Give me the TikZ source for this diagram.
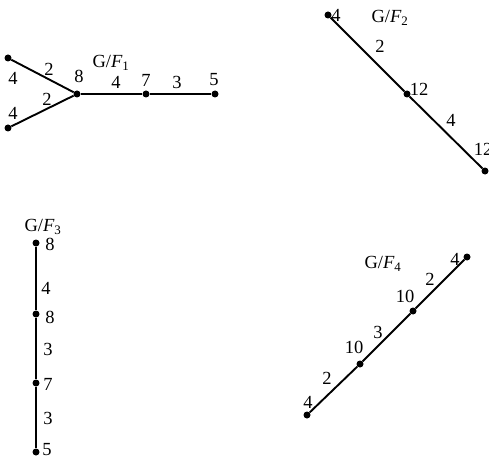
\documentclass[tikz,border=0pt]{standalone}
\usepackage{fontspec}
\setmainfont{Liberation Serif}
\newcommand{\gquot}[1]{G/\textit{F}\textsubscript{#1}}
\begin{document}
\begin{tikzpicture}[x=1pt,y=-1pt,
  vtx/.style={circle,fill=black,inner sep=0pt,minimum size=7pt},
  edge/.style={line width=1.9pt},
  lbl/.style={inner sep=0pt,font=\fontsize{18.5}{20}\selectfont}]
\useasboundingbox (0,0) rectangle (489,457);
% G/F1
\node[vtx] (a1) at (8,58) {};
\node[vtx] (a2) at (8,128) {};
\node[vtx] (a3) at (77,94) {};
\node[vtx] (a4) at (146,94) {};
\node[vtx] (a5) at (215,94) {};
\draw[edge] (a1) -- (a3);
\draw[edge] (a2) -- (a3);
\draw[edge] (a3) -- (a4) -- (a5);
\node[lbl] (t1) at (111,63) {\gquot{1}};
\node[lbl] (l1) at (13,78) {4};
\node[lbl] (l2) at (13,113) {4};
\node[lbl] (l3) at (49,69) {2};
\node[lbl] (l4) at (47,99) {2};
\node[lbl] (l5) at (79,76) {8};
\node[lbl] (l6) at (116,82) {4};
\node[lbl] (l7) at (146,80) {7};
\node[lbl] (l8) at (177,82) {3};
\node[lbl] (l9) at (214,80) {5};
% G/F2
\node[vtx] (b1) at (328,15) {};
\node[vtx] (b2) at (407,94) {};
\node[vtx] (b3) at (485,171) {};
\draw[edge] (b1) -- (b2) -- (b3);
\node[lbl] (t2) at (390,18) {\gquot{2}};
\node[lbl] (m1) at (336,15) {4};
\node[lbl] (m2) at (380,46) {2};
\node[lbl] (m3) at (419,89) {12};
\node[lbl] (m4) at (451,120) {4};
\node[lbl] (m5) at (483,149) {12};
% G/F3
\node[vtx] (c1) at (36,243) {};
\node[vtx] (c2) at (36,314) {};
\node[vtx] (c3) at (36,383) {};
\node[vtx] (c4) at (36,452) {};
\draw[edge] (c1) -- (c2) -- (c3) -- (c4);
\node[lbl] (t3) at (43,227) {\gquot{3}};
\node[lbl] (n1) at (50,244) {8};
\node[lbl] (n2) at (46,288) {4};
\node[lbl] (n3) at (50,317) {8};
\node[lbl] (n4) at (48,349) {3};
\node[lbl] (n5) at (48,384) {7};
\node[lbl] (n6) at (48,418) {3};
\node[lbl] (n7) at (47,450) {5};
% G/F4
\node[vtx] (d1) at (307,415) {};
\node[vtx] (d2) at (360,364) {};
\node[vtx] (d3) at (413,311) {};
\node[vtx] (d4) at (467,257) {};
\draw[edge] (d1) -- (d2) -- (d3) -- (d4);
\node[lbl] (t4) at (383,264) {\gquot{4}};
\node[lbl] (o1) at (308,402) {4};
\node[lbl] (o2) at (327,378) {2};
\node[lbl] (o3) at (354,347) {10};
\node[lbl] (o4) at (378,332) {3};
\node[lbl] (o5) at (405,296) {10};
\node[lbl] (o6) at (430,279) {2};
\node[lbl] (o7) at (455,259) {4};
\end{tikzpicture}
\end{document}
